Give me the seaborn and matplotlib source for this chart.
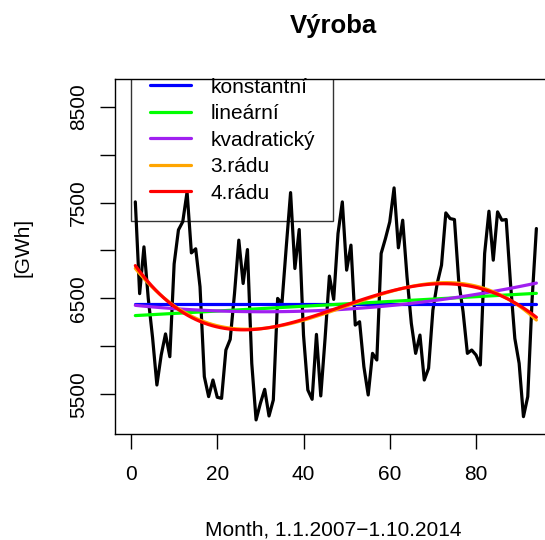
import numpy as np
import pandas as pd
import matplotlib
matplotlib.use("Agg")
import matplotlib.pyplot as plt
import seaborn as sns

# ---- data ----
months = list(range(1, 95))
vyroba = [7507, 6550, 7038, 6500, 6090, 5597, 5910, 6130, 5892, 6860,
          7215, 7300, 7611, 6975, 7018, 6622, 5684, 5476, 5649, 5469,
          5458, 5962, 6073, 6552, 7108, 6656, 7010, 5823, 5233, 5406,
          5552, 5274, 5441, 6500, 6448, 7038, 7604, 6812, 7219, 6118,
          5545, 5448, 6125, 5483, 6083, 6733, 6490, 7177, 7507, 6795,
          7056, 6222, 6257, 5788, 5493, 5927, 5858, 6969, 7125, 7299,
          7653, 7028, 7316, 6726, 6240, 5927, 6118, 5649, 5771, 6378,
          6656, 6847, 7392, 7333, 7323, 6674, 6361, 5927, 5962, 5910,
          5806, 6969, 7410, 6899, 7403, 7316, 7323, 6656, 6083, 5823,
          5267, 5476, 6483, 7229]
legend_labels = ["konstantní", "lineární", "kvadratický", "3.rádu", "4.rádu"]
fit_orders = [0, 1, 2, 3, 4]
fit_colors = ["#0000FF", "#00FF00", "#A020F0", "#FFA500", "#FF0000"]
xticks = [0, 20, 40, 60, 80]
yticks = [5500, 6000, 6500, 7000, 7500, 8000, 8500]
ytick_labels = ["5500", "", "6500", "", "7500", "", "8500"]
title = "Výroba"
xlabel = "Month, 1.1.2007\u22121.10.2014"
ylabel = "[GWh]"

df = pd.DataFrame({"month": months, "vyroba": vyroba})

sns.set_style("ticks")
plt.rcParams["font.family"] = ["Liberation Sans", "DejaVu Sans"]
for k in ["text.color", "axes.labelcolor", "xtick.color", "ytick.color",
          "axes.edgecolor"]:
    plt.rcParams[k] = "black"
FS = 15

W, H = 545, 540
fig = plt.figure(figsize=(W / 100, H / 100), dpi=100)
left_px, right_px, top_px, bot_px = 114.8, 552.6, 78.5, 434.0
ax = fig.add_axes([left_px / W, 1 - bot_px / H,
                   (right_px - left_px) / W, (bot_px - top_px) / H])

sns.lineplot(data=df, x="month", y="vyroba", color="black", lw=2.3,
             ax=ax, sort=False)

handles = []
for order, col, lab in zip(fit_orders, fit_colors, legend_labels):
    if order == 0:
        const = np.polyfit(df["month"], df["vyroba"], 0)[0]
        sns.lineplot(x=[months[0], months[-1]], y=[const, const], color=col,
                     lw=2.3, ax=ax)
    else:
        sns.regplot(data=df, x="month", y="vyroba", order=order, ci=None,
                    scatter=False, ax=ax, truncate=True,
                    line_kws={"color": col, "lw": 2.3})
    handles.append(plt.Line2D([], [], color=col, lw=2.3, label=lab))

ax.set_xlim(-3.76, 97.76)
ax.set_ylim(5086, 8794)
ax.set_xticks(xticks)
ax.set_xticklabels([str(t) for t in xticks], fontsize=FS, color="black")
ax.set_yticks(yticks)
ax.set_yticklabels(ytick_labels, fontsize=FS, rotation=90, va="center",
                   color="black")
ax.tick_params(axis="both", direction="out", length=10.5, width=1.0,
               color="black")
ax.tick_params(axis="x", pad=12)
ax.tick_params(axis="y", pad=9)
for s in ax.spines.values():
    s.set_linewidth(1.0)
    s.set_color("black")
ax.set_xlabel("")
ax.set_ylabel("")

# titles / labels placed in figure pixels
cx = (left_px + right_px) / 2
fig.text(cx / W, 1 - 33 / H, title, ha="center", va="baseline",
         fontsize=18.5, fontweight="bold", color="black")
fig.text(cx / W, 1 - 535 / H, xlabel, ha="center", va="baseline",
         fontsize=FS, color="black")
fig.text(22.5 / W, 1 - 247 / H, ylabel, ha="center", va="center",
         rotation=90, fontsize=FS, color="black")

axw = right_px - left_px
axh = bot_px - top_px
leg_left = (131 - left_px) / axw
leg_top = 1 + 19.7 / axh
leg = ax.legend(handles=handles, loc="upper left",
                bbox_to_anchor=(leg_left, leg_top), borderaxespad=0,
                fontsize=FS, frameon=True, fancybox=False, edgecolor="black",
                facecolor="none", framealpha=None, borderpad=0.9,
                labelspacing=0.36, handlelength=2.0, handletextpad=0.9)
leg.get_frame().set_linewidth(1.0)
leg.get_frame().set_facecolor("none")
leg.legendPatch.set_clip_box(ax.bbox)
for t in leg.get_texts():
    t.set_color("black")

fig.savefig("out.png", dpi=100)
